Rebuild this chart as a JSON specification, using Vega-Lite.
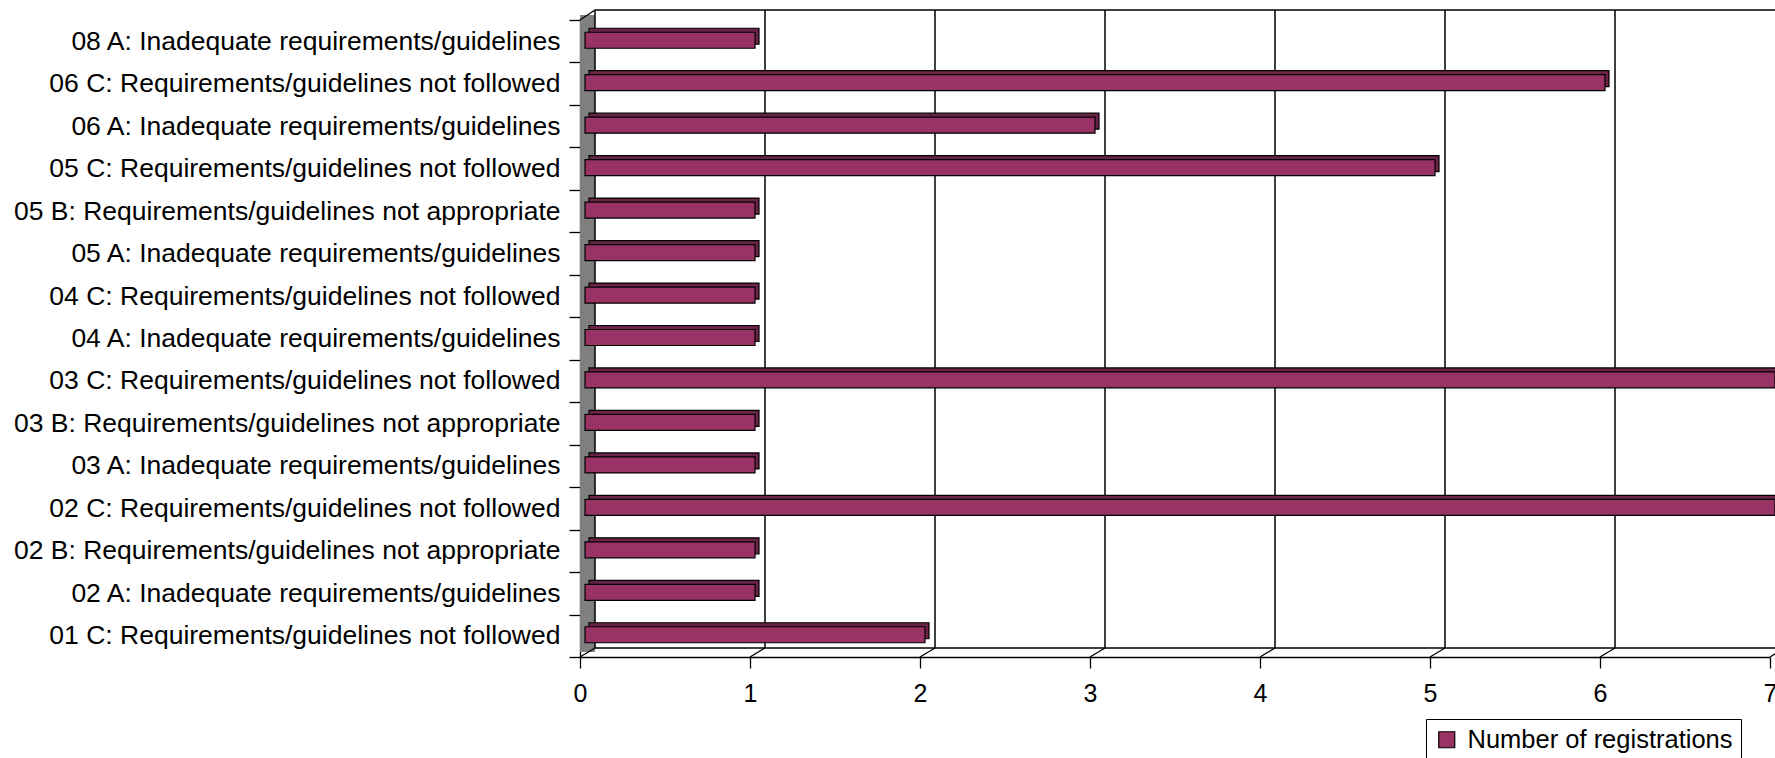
{
  "$schema": "https://vega.github.io/schema/vega-lite/v6.json",
  "width": 1190,
  "height": 637,
  "autosize": "none",
  "padding": {"left": 580, "top": 20, "right": 5, "bottom": 101},
  "background": "white",
  "config": {
    "view": {"stroke": null},
    "font": "Liberation Sans",
    "axisX": {
      "title": null, "labelFontSize": 25, "labelColor": "black", "tickColor": "black", "tickSize": 11,
      "labelPadding": 13, "grid": false, "domainColor": "black", "labelFlush": false, "labelOverlap": false,
      "tickWidth": 1.3, "domainWidth": 1.5, "format": "d"
    },
    "axisY": {
      "title": null, "labelFontSize": 26.5, "labelColor": "black", "tickColor": "black", "tickSize": 11,
      "domainColor": "black", "tickBand": "extent", "labelPadding": 9, "labelLimit": 0, "tickWidth": 1.3,
      "domainWidth": 1.3, "grid": false
    }
  },
  "resolve": {"scale": {"y": "independent"}},
  "layer": [
    {
      "layer": [
        {
          "data": {"values": [{"v": 0}]},
          "mark": {"type": "rect", "fill": "#808080", "x2Offset": 15, "yOffset": -5, "y2Offset": -5},
          "encoding": {
            "x": {"datum": 0, "type": "quantitative", "scale": {"domain": [0, 7], "nice": false}, "axis": {"values": [0, 1, 2, 3, 4, 5, 6, 7]}},
            "x2": {"datum": 0},
            "y": {"datum": 0, "type": "quantitative", "scale": {"domain": [0, 1], "nice": false, "zero": false}, "axis": null},
            "y2": {"datum": 1}
          }
        },
        {
          "data": {"values": [{"v": 0}, {"v": 1}, {"v": 2}, {"v": 3}, {"v": 4}, {"v": 5}, {"v": 6}, {"v": 7}]},
          "mark": {"type": "rule", "color": "black", "strokeWidth": 1.5, "xOffset": 15, "yOffset": -9, "y2Offset": -10},
          "encoding": {
            "x": {"field": "v", "type": "quantitative"},
            "y": {"datum": 0, "type": "quantitative"},
            "y2": {"datum": 1}
          }
        },
        {
          "data": {"values": [{"v": 0}, {"v": 1}, {"v": 2}, {"v": 3}, {"v": 4}, {"v": 5}, {"v": 6}, {"v": 7}]},
          "mark": {"type": "rule", "color": "black", "strokeWidth": 1.3, "x2Offset": 15, "y2Offset": -9},
          "encoding": {
            "x": {"field": "v", "type": "quantitative"},
            "x2": {"field": "v"},
            "y": {"datum": 0, "type": "quantitative"},
            "y2": {"datum": 0}
          }
        },
        {
          "data": {"values": [{"v": 0}]},
          "mark": {"type": "rule", "color": "black", "strokeWidth": 1.3, "x2Offset": 15, "y2Offset": -10},
          "encoding": {
            "x": {"datum": 0, "type": "quantitative"},
            "x2": {"datum": 0},
            "y": {"datum": 1, "type": "quantitative"},
            "y2": {"datum": 1}
          }
        },
        {
          "data": {"values": [{"v": 0}]},
          "mark": {"type": "rule", "color": "black", "strokeWidth": 1.5, "xOffset": 15, "x2Offset": 15, "yOffset": -10},
          "encoding": {
            "x": {"datum": 0, "type": "quantitative"},
            "x2": {"datum": 7.2},
            "y": {"datum": 1, "type": "quantitative"}
          }
        },
        {
          "data": {"values": [{"v": 0}]},
          "mark": {"type": "rule", "color": "black", "strokeWidth": 1.5, "xOffset": 15, "x2Offset": 15, "yOffset": -9},
          "encoding": {
            "x": {"datum": 0, "type": "quantitative"},
            "x2": {"datum": 7.2},
            "y": {"datum": 0, "type": "quantitative"}
          }
        }
      ]
    },
    {
      "data": {
        "values": [
          {"cat": "08 A: Inadequate requirements/guidelines", "n": 1, "series": "Number of registrations"},
          {"cat": "06 C: Requirements/guidelines not followed", "n": 6, "series": "Number of registrations"},
          {"cat": "06 A: Inadequate requirements/guidelines", "n": 3, "series": "Number of registrations"},
          {"cat": "05 C: Requirements/guidelines not followed", "n": 5, "series": "Number of registrations"},
          {"cat": "05 B: Requirements/guidelines not appropriate", "n": 1, "series": "Number of registrations"},
          {"cat": "05 A: Inadequate requirements/guidelines", "n": 1, "series": "Number of registrations"},
          {"cat": "04 C: Requirements/guidelines not followed", "n": 1, "series": "Number of registrations"},
          {"cat": "04 A: Inadequate requirements/guidelines", "n": 1, "series": "Number of registrations"},
          {"cat": "03 C: Requirements/guidelines not followed", "n": 7, "series": "Number of registrations"},
          {"cat": "03 B: Requirements/guidelines not appropriate", "n": 1, "series": "Number of registrations"},
          {"cat": "03 A: Inadequate requirements/guidelines", "n": 1, "series": "Number of registrations"},
          {"cat": "02 C: Requirements/guidelines not followed", "n": 7, "series": "Number of registrations"},
          {"cat": "02 B: Requirements/guidelines not appropriate", "n": 1, "series": "Number of registrations"},
          {"cat": "02 A: Inadequate requirements/guidelines", "n": 1, "series": "Number of registrations"},
          {"cat": "01 C: Requirements/guidelines not followed", "n": 2, "series": "Number of registrations"}
        ]
      },
      "encoding": {
        "y": {
          "field": "cat", "type": "nominal", "sort": null,
          "scale": {"paddingInner": 0, "paddingOuter": 0},
          "axis": {"orient": "left"}
        },
        "x": {
          "field": "n", "type": "quantitative",
          "scale": {"domain": [0, 7], "nice": false},
          "axis": {"values": [0, 1, 2, 3, 4, 5, 6, 7]}
        }
      },
      "layer": [
        {
          "mark": {"type": "bar", "color": "#6b2347", "stroke": "black", "strokeWidth": 1.2, "height": 16, "xOffset": 9, "x2Offset": 9, "yOffset": -5}
        },
        {
          "mark": {"type": "bar", "stroke": "black", "strokeWidth": 1.2, "height": 16, "xOffset": 5, "x2Offset": 5, "yOffset": -1},
          "encoding": {
            "color": {
              "field": "series", "type": "nominal",
              "scale": {"range": ["#993366"]},
              "legend": {
                "orient": "none", "legendX": 846, "legendY": 699, "title": null,
                "symbolType": "square", "symbolSize": 256, "symbolStrokeColor": "black", "symbolStrokeWidth": 1.2,
                "labelFontSize": 25.5, "labelColor": "black", "strokeColor": "black", "fillColor": "white",
                "padding": 8, "symbolOpacity": 1, "labelOffset": 8, "labelLimit": 0
              }
            }
          }
        }
      ]
    }
  ]
}
